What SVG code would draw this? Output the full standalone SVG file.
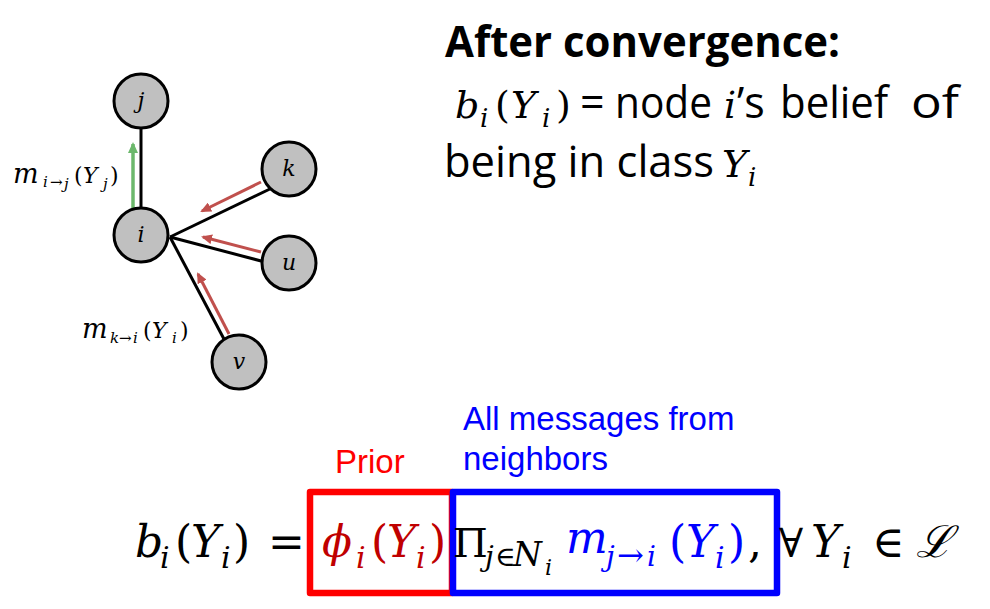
<svg xmlns="http://www.w3.org/2000/svg" width="990" height="609" viewBox="0 0 990 609">
<style>
.node{fill:#c0c0c0;stroke:#000;stroke-width:3}
.edge{stroke:#000;stroke-width:3;fill:none}
.msg{stroke:#c0504d;stroke-width:3;fill:none}
.ms{font-family:"DejaVu Serif","Liberation Serif",serif;font-style:italic}
.up{font-family:"DejaVu Serif","Liberation Serif",serif;font-style:normal}
.lbl{font-family:"DejaVu Serif","Liberation Serif",serif;font-style:italic;font-size:22px;text-anchor:middle}
.cal{font-family:"Open Sans","Liberation Sans",sans-serif;font-size:43px}
.ar{font-family:"Liberation Sans",Arial,sans-serif;font-size:33px}
</style>
<defs>
<marker id="hr" markerWidth="11" markerHeight="10" refX="9" refY="5" orient="auto" markerUnits="userSpaceOnUse" viewBox="0 0 11 10">
<path d="M0,0 L11,5 L0,10 z" fill="#c0504d"/>
</marker>
<marker id="hg" markerWidth="11" markerHeight="12" refX="9" refY="5" orient="auto" markerUnits="userSpaceOnUse" viewBox="0 0 11 10">
<path d="M0,0 L11,5 L0,10 z" fill="#6cb86c"/>
</marker>
</defs>

<g id="connectors">
<line class="edge" x1="141" y1="128" x2="141" y2="210"/>
<line class="edge" x1="170" y1="237" x2="272" y2="188"/>
<line class="edge" x1="170" y1="237" x2="265" y2="262"/>
<line class="edge" x1="170" y1="237" x2="225" y2="341"/>
<line stroke="#6cb86c" stroke-width="3.5" x1="133" y1="208" x2="133" y2="144" marker-end="url(#hg)"/>
<line class="msg" x1="261" y1="182" x2="202" y2="211" marker-end="url(#hr)"/>
<line class="msg" x1="261" y1="252" x2="203" y2="237" marker-end="url(#hr)"/>
<line class="msg" x1="229" y1="334" x2="198" y2="274" marker-end="url(#hr)"/>
</g>

<g id="node-j"><circle class="node" cx="141" cy="101" r="27"/><text class="lbl" x="141" y="108">j</text></g>
<g id="node-i"><circle class="node" cx="141" cy="235" r="27"/><text class="lbl" x="141" y="242">i</text></g>
<g id="node-k"><circle class="node" cx="289" cy="169" r="27"/><text class="lbl" x="289" y="176">k</text></g>
<g id="node-u"><circle class="node" cx="289" cy="263" r="27"/><text class="lbl" x="289" y="270">u</text></g>
<g id="node-v"><circle class="node" cx="239" cy="362" r="27"/><text class="lbl" x="239" y="369">v</text></g>

<g id="label-mij" class="ms" fill="#000">
<text x="13" y="183" font-size="27">m</text>
<text x="43" y="187" font-size="15">i</text>
<text x="50" y="187" font-size="15" class="up">→</text>
<text x="64" y="189" font-size="15">j</text>
<text x="74" y="183" font-size="22" class="up">(</text>
<text x="83" y="183" font-size="22">Y</text>
<text x="103" y="189" font-size="15">j</text>
<text x="110" y="183" font-size="22" class="up">)</text>
</g>
<g id="label-mki" class="ms" fill="#000">
<text x="82" y="338" font-size="27">m</text>
<text x="110" y="343" font-size="15">k</text>
<text x="119" y="343" font-size="15" class="up">→</text>
<text x="133" y="343" font-size="15">i</text>
<text x="143" y="338" font-size="22" class="up">(</text>
<text x="152" y="338" font-size="22">Y</text>
<text x="172" y="343" font-size="15">i</text>
<text x="180" y="338" font-size="22" class="up">)</text>
</g>

<g id="heading" fill="#000">
<text class="cal" x="445" y="57" font-size="42" font-weight="bold" textLength="395" lengthAdjust="spacingAndGlyphs">After convergence:</text>
<text class="ms" x="455" y="118" font-size="38">b</text>
<text class="ms" x="480" y="127" font-size="26">i</text>
<text class="up" x="495" y="118" font-size="38">(</text>
<text class="ms" x="511" y="118" font-size="38">Y</text>
<text class="ms" x="542" y="127" font-size="26">i</text>
<text class="up" x="556" y="118" font-size="38">)</text>
<text class="cal" x="580" y="118">=</text>
<text class="cal" x="615" y="118" textLength="97" lengthAdjust="spacingAndGlyphs">node</text>
<text class="ms" x="724" y="118" font-size="38">i</text>
<text class="cal" x="737" y="118">’s</text>
<text class="cal" x="780" y="118" textLength="108" lengthAdjust="spacingAndGlyphs">belief</text>
<text class="cal" x="911" y="118" textLength="48" lengthAdjust="spacingAndGlyphs">of</text>
<text class="cal" x="444" y="177" textLength="270" lengthAdjust="spacingAndGlyphs">being in class</text>
<text class="ms" x="722" y="177" font-size="38">Y</text>
<text class="ms" x="748" y="186" font-size="26">i</text>
</g>

<g id="annotations">
<text class="ar" x="335" y="473" fill="#ff0000">Prior</text>
<text class="ar" x="463" y="430" fill="#0000ff">All messages from</text>
<text class="ar" x="463" y="470" fill="#0000ff">neighbors</text>
</g>

<g id="boxes" fill="none" stroke-width="6.5" stroke-linejoin="round">
<rect x="310" y="492" width="142" height="101" stroke="#ff0000"/>
<rect x="453" y="492" width="324" height="101" stroke="#0000ff"/>
</g>

<g id="formula">
<g fill="#000">
<text class="ms" x="135" y="557" font-size="44">b</text>
<text class="ms" x="160" y="568" font-size="30">i</text>
<text class="up" x="175" y="557" font-size="44">(</text>
<text class="ms" x="191" y="557" font-size="44">Y</text>
<text class="ms" x="221" y="568" font-size="30">i</text>
<text class="up" x="233" y="557" font-size="44">)</text>
<text class="up" x="268" y="557" font-size="44">=</text>
</g>
<g fill="#c00000">
<text class="ms" x="322" y="557" font-size="44">ϕ</text>
<text class="ms" x="356" y="568" font-size="30">i</text>
<text class="up" x="371" y="557" font-size="44">(</text>
<text class="ms" x="387" y="557" font-size="44">Y</text>
<text class="ms" x="416" y="568" font-size="30">i</text>
<text class="up" x="429" y="557" font-size="44">)</text>
</g>
<g fill="#000">
<text class="up" x="453" y="557" font-size="40">Π</text>
<text class="ms" x="485" y="566" font-size="28">j</text>
<text class="up" x="495" y="566" font-size="28">∈</text>
<text class="ms" x="513" y="566" font-size="33">N</text>
<text class="ms" x="545" y="575" font-size="22">i</text>
</g>
<g fill="#0000ff">
<text class="ms" x="566" y="553" font-size="44">m</text>
<text class="ms" x="606" y="566" font-size="28">j</text>
<text class="up" x="617" y="566" font-size="32">→</text>
<text class="ms" x="647" y="566" font-size="28">i</text>
<text class="up" x="669" y="557" font-size="44">(</text>
<text class="ms" x="686" y="557" font-size="44">Y</text>
<text class="ms" x="715" y="568" font-size="30">i</text>
<text class="up" x="728" y="557" font-size="44">)</text>
</g>
<g fill="#000">
<text class="up" x="748" y="557" font-size="44">,</text>
<text class="up" x="779" y="557" font-size="40">∀</text>
<text class="ms" x="811" y="557" font-size="44">Y</text>
<text class="ms" x="842" y="568" font-size="30">i</text>
<text class="up" x="872" y="557" font-size="44">∈</text>
<text class="ms" x="916" y="557" font-size="44">ℒ</text>
</g>
</g>
</svg>
